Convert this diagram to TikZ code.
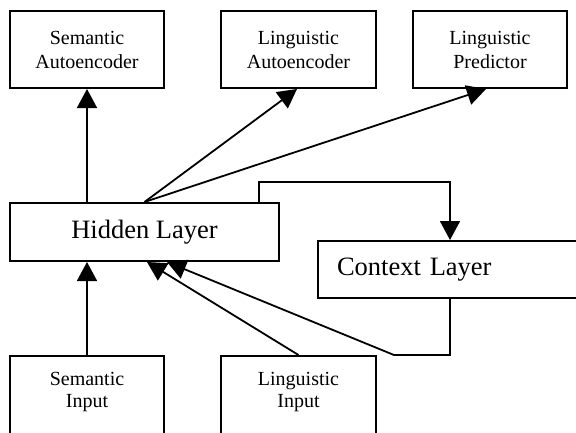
\documentclass[tikz,border=0pt]{standalone}
\usepackage{fontspec}
\setmainfont{Liberation Serif}
\usetikzlibrary{arrows.meta,calc}
\begin{document}
\begin{tikzpicture}[x=1pt,y=-1pt,
  box/.style={draw,line width=2pt,rectangle,inner sep=0pt},
  small/.style={font=\fontsize{20}{24}\selectfont,align=center},
  big/.style={font=\fontsize{26.5}{30}\selectfont},
  arr/.style={line width=1.8pt,-{Triangle[length=19pt,width=20pt]}},
  ln/.style={line width=1.8pt}]
\useasboundingbox (0,0) rectangle (576,432);
\clip (0,0) rectangle (576,432);
% top boxes
\node[box,small,minimum width=154pt,minimum height=77pt] (sa) at (87,49.5) {Semantic\\Autoencoder};
\node[box,small,minimum width=155pt,minimum height=77pt] (la) at (298.5,49.5) {Linguistic\\Autoencoder};
\node[box,small,minimum width=154pt,minimum height=77pt] (lp) at (490,49.5) {Linguistic\\Predictor};
% middle
\node[box,big,minimum width=269pt,minimum height=58pt] (hid) at (144.5,232) {Hidden Layer};
\node[box,big,minimum height=57pt,text width=264pt,inner xsep=19pt,align=left] (ctx) at (469,269.5) {Context Layer};
% bottom boxes
\node[box,minimum width=154pt,minimum height=104pt] (si) at (87,408) {};
\node[box,minimum width=155pt,minimum height=104pt] (li) at (298.5,408) {};
\node[small,anchor=north,inner sep=0pt,font=\fontsize{20}{21.7}\selectfont] (sit) at ($(si.north)+(0,17)$) {Semantic\\Input};
\node[small,anchor=north,inner sep=0pt,font=\fontsize{20}{21.7}\selectfont] (lit) at ($(li.north)+(0,17)$) {Linguistic\\Input};
% connection points
\coordinate (hidtap) at ($(hid.north east)+(-21,0)$);
\coordinate (fb) at ($(ctx.north west)+(133,0)$);
\coordinate (ctxtap) at ($(ctx.south west)+(133,0)$);
\coordinate (hidin1) at ($(hid.south west)+(138,0)$);
\coordinate (hidin2) at ($(hid.south west)+(158,0)$);
% arrows
\draw[arr] (sa.south |- hid.north) -- (sa.south);
\draw[arr] (hid.north) -- ($(la.south)+(-1.5,0)$);
\draw[arr] (hid.north) -- ($(lp.south)+(-4,0)$);
\draw[arr] (hidtap) -- ++(0,-20) -| (fb);
\draw[arr] (ctxtap) -- (ctxtap |- li.north) -- ($(li.north east)+(17,0)$) -- (hidin2);
\draw[arr] (li.north) -- (hidin1);
\draw[arr] (si.north) -- (si.north |- hid.south);
\end{tikzpicture}
\end{document}
